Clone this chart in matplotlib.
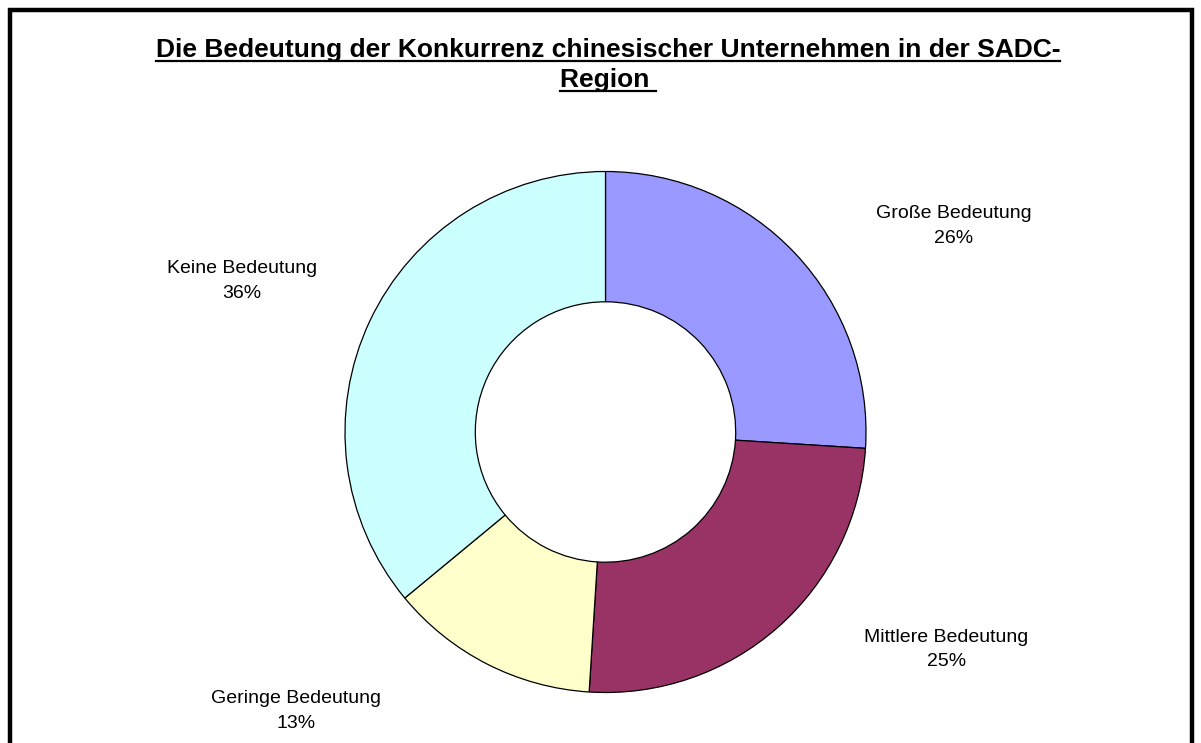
import matplotlib; matplotlib.use("Agg")
import matplotlib.pyplot as plt
from matplotlib.patches import Rectangle
from matplotlib.lines import Line2D

plt.rcParams["font.family"] = ["Liberation Sans", "DejaVu Sans"]

categories = ["Große Bedeutung", "Mittlere Bedeutung", "Geringe Bedeutung", "Keine Bedeutung"]
shares = [26, 25, 13, 36]
colors = ["#9999FF", "#993366", "#FFFFCC", "#CCFFFF"]
title_lines = ["Die Bedeutung der Konkurrenz chinesischer Unternehmen in der SADC-", "Region "]

W, H = 1201, 743
# label centre x / first-line baseline y, pixel coords from top-left
label_pos = [(954, 218.5), (946.5, 641.5), (296, 703), (242, 273)]
line_step = 24.8

fig = plt.figure(figsize=(W / 100, H / 100), dpi=100)
ax = fig.add_axes([0, 0, 1, 1])
ax.pie(shares, colors=colors, startangle=90, counterclock=False,
       center=(605.5, H - 432), radius=260.5,
       wedgeprops=dict(width=130.3, edgecolor="black", linewidth=0.9))
ax.set_xlim(0, W); ax.set_ylim(0, H)
ax.set_aspect("equal")
ax.axis("off")

for name, v, (x, y) in zip(categories, shares, label_pos):
    ax.text(x, H - y, name, ha="center", va="baseline", fontsize=14)
    ax.text(x, H - y - line_step, f"{v}%", ha="center", va="baseline", fontsize=14)

# frame around the chart area (bottom edge runs off the picture)
fig.patches.append(Rectangle((10 / W, -0.05), (1192 - 10) / W, (H - 10) / H + 0.05,
                             transform=fig.transFigure, fill=False, edgecolor="black",
                             linewidth=3.2))

# title, bold + underlined
titles = []
for i, line in enumerate(title_lines):
    t = fig.text(608 / W, 1 - (56.5 + 30 * i) / H, line, ha="center", va="baseline",
                 fontsize=19, fontweight="bold")
    titles.append(t)
fig.canvas.draw()
r = fig.canvas.get_renderer()
for t in titles:
    bb = t.get_window_extent(r)
    yb = t.get_position()[1] * H - 4
    fig.lines.append(Line2D([bb.x0 / W, bb.x1 / W], [yb / H, yb / H],
                            transform=fig.transFigure, color="black", linewidth=1.6))

fig.savefig("out.png", dpi=100)
